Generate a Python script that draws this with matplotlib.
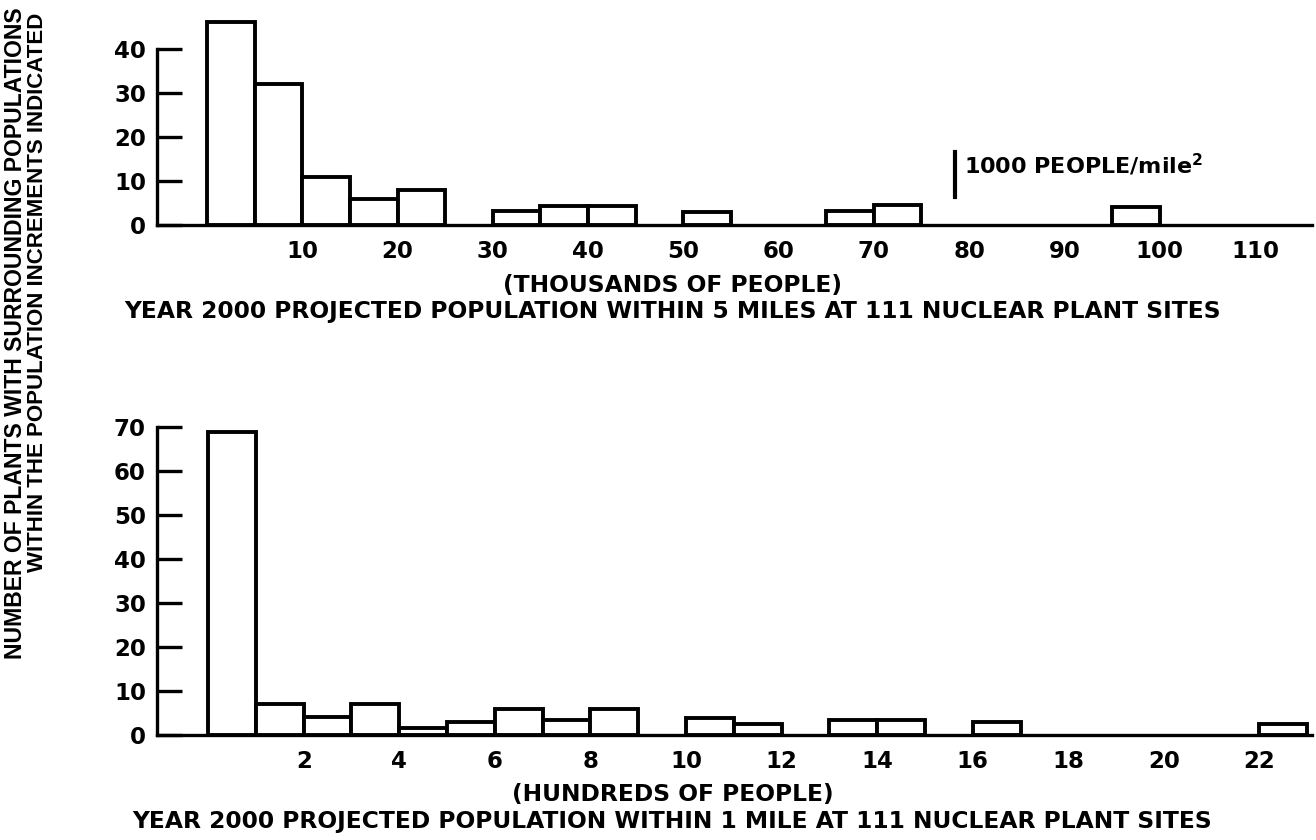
import numpy as np
import matplotlib.pyplot as plt

plt.rcParams['font.family'] = ['DejaVu Sans']
plt.rcParams['font.weight'] = 'bold'
plt.rcParams['mathtext.fontset'] = 'dejavusans'

# 5-mile population histogram, bins of 5 thousand people (0-5, 5-10, ... 95-100)
bin5_width = 5
counts_5mi = [46, 32, 11, 6, 8, 0, 3.3, 4.3, 4.3, 0, 3.0, 0, 0, 3.3, 4.5, 0, 0, 0, 0, 4.0]
ticks_5mi = [10, 20, 30, 40, 50, 60, 70, 80, 90, 100, 110]
yticks_5mi = [0, 10, 20, 30, 40]
density_mark = 78.5  # 1000 people/mile^2 over a 5 mile radius

# 1-mile population histogram, bins of 1 hundred people (0-1, 1-2, ... 22-23)
bin1_width = 1
counts_1mi = [69, 7, 4, 7, 1.6, 3, 6, 3.4, 6, 0, 3.8, 2.6, 0, 3.3, 3.4, 0, 3.0,
              0, 0, 0, 0, 0, 2.6]
ticks_1mi = [2, 4, 6, 8, 10, 12, 14, 16, 18, 20, 22]
yticks_1mi = [0, 10, 20, 30, 40, 50, 60, 70]

LW = 2.8
FS = 16.5
NARROW = 'Liberation Sans'

fig = plt.figure(figsize=(13.16, 8.4), dpi=100)
ax1 = fig.add_axes([0.1193, 0.7321, 0.8777, 0.2464])
ax2 = fig.add_axes([0.1193, 0.125, 0.8777, 0.3714])


def draw_hist(ax, counts, width, xlim, ylim, xticks, yticks):
    counts = np.asarray(counts, dtype=float)
    left = np.arange(len(counts)) * width
    keep = counts > 0
    ax.bar(left[keep], counts[keep], width=width, align='edge',
           color='white', edgecolor='black', linewidth=LW, zorder=3)
    ax.set_xlim(*xlim)
    ax.set_ylim(*ylim)
    for side in ('top', 'right'):
        ax.spines[side].set_visible(False)
    ax.spines['left'].set_bounds(yticks[0], yticks[-1])
    ax.spines['left'].set_linewidth(2.4)
    ax.spines['bottom'].set_linewidth(2.4)
    ax.set_xticks(xticks)
    ax.set_xticklabels([str(t) for t in xticks], fontsize=FS, fontweight='bold')
    ax.set_yticks(yticks)
    ax.set_yticklabels([str(t) for t in yticks], fontsize=FS, fontweight='bold')
    ax.tick_params(axis='x', length=0, pad=11)
    ax.tick_params(axis='y', direction='in', length=18, width=2.4, pad=8)


draw_hist(ax1, counts_5mi, bin5_width, (-5.25, 116), (0, 47), ticks_5mi, yticks_5mi)
draw_hist(ax2, counts_1mi, bin1_width, (-1.07, 23.1), (0, 71), ticks_1mi, yticks_1mi)

# density reference line
ax1.plot([density_mark, density_mark], [6.4, 16.6], color='black', linewidth=3, zorder=4)
ax1.text(density_mark + 1.0, 13.6, r'1000 PEOPLE/mile$^\mathbf{2}$', fontsize=FS - 0.5,
         fontweight='bold', va='center', ha='left')

fig.text(0.511, 0.660, '(THOUSANDS OF PEOPLE)', ha='center', va='center',
         fontsize=16.8, fontweight='bold')
fig.text(0.511, 0.629,
         'YEAR 2000 PROJECTED POPULATION WITHIN 5 MILES AT 111 NUCLEAR PLANT SITES',
         ha='center', va='center', fontsize=16.8, fontweight='bold')
fig.text(0.511, 0.054, '(HUNDREDS OF PEOPLE)', ha='center', va='center',
         fontsize=16.8, fontweight='bold')
fig.text(0.511, 0.022,
         'YEAR 2000 PROJECTED POPULATION WITHIN 1 MILE AT 111 NUCLEAR PLANT SITES',
         ha='center', va='center', fontsize=16.8, fontweight='bold')

# two-line y caption shared by both panels
fig.text(0.0115, 0.6036, 'NUMBER OF PLANTS WITH SURROUNDING POPULATIONS',
         rotation=90, ha='center', va='center', fontsize=16.6, fontweight='bold',
         family=NARROW)
fig.text(0.0285, 0.652, 'WITHIN THE POPULATION INCREMENTS INDICATED',
         rotation=90, ha='center', va='center', fontsize=16.0, fontweight='bold',
         family=NARROW)

fig.savefig('out.png', dpi=100)
